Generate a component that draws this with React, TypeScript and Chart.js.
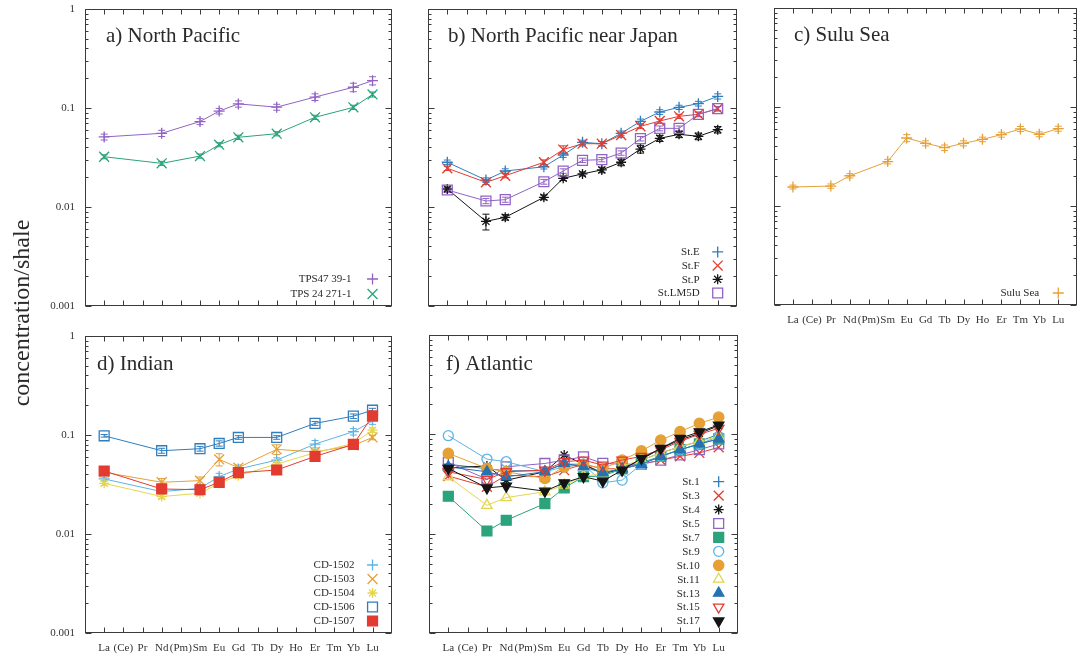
import React, { useEffect, useRef } from 'react';
import { Chart, registerables } from 'chart.js';
import { drawPoint } from 'chart.js/helpers';

Chart.register(...registerables);

const FONT = "'Liberation Serif', 'Times New Roman', 'DejaVu Serif', serif";

// x axis: atomic numbers La(57) .. Lu(71)
const atomicNumbers = [57, 58, 59, 60, 61, 62, 63, 64, 65, 66, 67, 68, 69, 70, 71];
const xTickLabels = ['La', '(Ce)', 'Pr', 'Nd', '(Pm)', 'Sm', 'Eu', 'Gd', 'Tb', 'Dy', 'Ho', 'Er', 'Tm', 'Yb', 'Lu'];
const yTickValues = [0.001, 0.01, 0.1, 1];
const yTickLabels = ['0.001', '0.01', '0.1', '1'];

// element positions used by the series
const fullREE = [57, 59, 60, 62, 63, 64, 65, 66, 67, 68, 69, 70, 71]; // La Pr Nd Sm Eu Gd Tb Dy Ho Er Tm Yb Lu
const partialREE = [57, 60, 62, 63, 64, 66, 68, 70, 71]; // La Nd Sm Eu Gd Dy Er Yb Lu

// a) North Pacific
const tps47 = [0.051, 0.0555, 0.073, 0.093, 0.110, 0.102, 0.129, 0.162, 0.189];
const tps47Err = [0.0035, 0.004, 0.005, 0.006, 0.008, 0.007, 0.01, 0.016, 0.018];
const tps24 = [0.0322, 0.0276, 0.0327, 0.0426, 0.0506, 0.055, 0.0805, 0.1016, 0.137];
const tps24Err = [0.0015, 0.0013, 0.0016, 0.002, 0.0025, 0.0027, 0.004, 0.005, 0.008];

// b) North Pacific near Japan
const stE = [0.0283, 0.0187, 0.0231, 0.0255, 0.0335, 0.045, 0.0436, 0.0555, 0.0733, 0.0911, 0.1016, 0.1107, 0.131];
const stEErr = [0.0015, 0.001, 0.0012, 0.0013, 0.0018, 0.0023, 0.0022, 0.003, 0.004, 0.005, 0.005, 0.006, 0.008];
const stF = [0.0246, 0.01775, 0.0207, 0.0283, 0.038, 0.0436, 0.0436, 0.0533, 0.0653, 0.0739, 0.0824, 0.0863, 0.0985];
const stFErr = [0.0012, 0.0009, 0.001, 0.0016, 0.0035, 0.0022, 0.0022, 0.0027, 0.0033, 0.0037, 0.004, 0.0045, 0.005];
const stP = [0.0152, 0.00716, 0.00787, 0.01253, 0.0195, 0.0216, 0.0237, 0.0283, 0.0385, 0.0494, 0.0542, 0.0518, 0.0604];
const stPErr = [0.0007, 0.0013, 0.0005, 0.0007, 0.001, 0.001, 0.0015, 0.0022, 0.0035, 0.0035, 0.004, 0.004, 0.0045];
const stLM5D = [0.01485, 0.0115, 0.01186, 0.018, 0.0231, 0.0296, 0.0301, 0.0351, 0.049, 0.0623, 0.0623, 0.0863, 0.0985];
const stLM5DErr = [0.0008, 0.0007, 0.0007, 0.001, 0.0012, 0.0015, 0.0015, 0.0018, 0.0025, 0.0035, 0.0035, 0.0045, 0.005];

// c) Sulu Sea
const sulu = [0.01556, 0.0159, 0.0202, 0.0281, 0.0486, 0.043, 0.0388, 0.043, 0.0471, 0.0526, 0.06, 0.053, 0.0604];
const suluErr = [0.0007, 0.0008, 0.001, 0.0015, 0.004, 0.0025, 0.0025, 0.0025, 0.0025, 0.003, 0.0035, 0.003, 0.0035];

// d) Indian
const cd1502 = [0.036, 0.0268, 0.029, 0.038, 0.0453, 0.0558, 0.081, 0.108, 0.138];
const cd1502Err = [0.0015, 0.001, 0.0012, 0.003, 0.002, 0.003, 0.007, 0.008, 0.01];
const cd1503 = [0.042, 0.0333, 0.0346, 0.0567, 0.0468, 0.0716, 0.0673, 0.0785, 0.0945];
const cd1503Err = [0.0015, 0.003, 0.003, 0.008, 0.003, 0.008, 0.004, 0.004, 0.005];
const cd1504 = [0.0325, 0.0239, 0.0258, 0.0325, 0.0388, 0.0509, 0.0662, 0.0822, 0.112];
const cd1504Err = [0.0015, 0.0012, 0.0012, 0.0015, 0.002, 0.0025, 0.003, 0.004, 0.006];
const cd1506 = [0.0982, 0.0694, 0.0727, 0.0822, 0.0945, 0.0945, 0.131, 0.155, 0.178];
const cd1506Err = [0.003, 0.004, 0.004, 0.005, 0.004, 0.004, 0.006, 0.008, 0.008];
const cd1507 = [0.0433, 0.0285, 0.028, 0.0333, 0.0416, 0.0443, 0.0608, 0.0803, 0.156];

// f) Atlantic
const st1 = [0.050, 0.045, 0.043, 0.043, 0.050, 0.050, 0.041, 0.046, 0.055, 0.065, 0.075, 0.085, 0.100];
const st3 = [0.038, 0.0296, 0.0388, 0.0374, 0.0436, 0.050, 0.045, 0.045, 0.050, 0.055, 0.060, 0.065, 0.074];
const st4 = [0.046, 0.048, 0.0345, 0.042, 0.0618, 0.050, 0.040, 0.045, 0.056, 0.072, 0.088, 0.102, 0.122];
const st5 = [0.0521, 0.0354, 0.0471, 0.0509, 0.055, 0.0594, 0.051, 0.050, 0.050, 0.055, 0.062, 0.070, 0.080];
const st7 = [0.0238, 0.01064, 0.01364, 0.0201, 0.0289, 0.0374, 0.038, 0.045, 0.052, 0.060, 0.070, 0.080, 0.090];
const st9 = [0.097, 0.0563, 0.053, 0.042, 0.047, 0.050, 0.0325, 0.0346, 0.050, 0.060, 0.070, 0.080, 0.095];
const st10 = [0.0643, 0.0454, 0.042, 0.036, 0.0471, 0.050, 0.045, 0.055, 0.068, 0.0875, 0.1065, 0.129, 0.149];
const st11 = [0.0374, 0.0193, 0.0231, 0.0264, 0.0308, 0.038, 0.040, 0.048, 0.055, 0.065, 0.075, 0.085, 0.095];
const st13 = [0.047, 0.042, 0.0374, 0.042, 0.051, 0.047, 0.041, 0.045, 0.050, 0.060, 0.070, 0.080, 0.090];
const st15 = [0.042, 0.0351, 0.042, 0.0436, 0.053, 0.055, 0.049, 0.055, 0.060, 0.070, 0.085, 0.100, 0.115];
const st17 = [0.0454, 0.0289, 0.0301, 0.0268, 0.0325, 0.0374, 0.0338, 0.0436, 0.0572, 0.0722, 0.091, 0.106, 0.124];

const C = {
  purple: '#9163c4',
  green: '#2ba37c',
  lightBlue: '#5cb4e6',
  orange: '#e6a035',
  yellow: '#e3d64e',
  blue: '#2f7dbd',
  red: '#e33b2f',
  black: '#141414',
};

type Marker = 'plus' | 'x' | 'star' | 'square' | 'squareF' | 'circle' | 'circleF' | 'tri' | 'triF' | 'triDown' | 'triDownF';
const MARKERS: Record<Marker, { style: string; r: number; filled: boolean; rot: number }> = {
  plus: { style: 'cross', r: 5.5, filled: false, rot: 0 },
  x: { style: 'crossRot', r: 7, filled: false, rot: 0 },
  star: { style: 'star', r: 5, filled: false, rot: 0 },
  square: { style: 'rect', r: 7, filled: false, rot: 0 },
  squareF: { style: 'rect', r: 7, filled: true, rot: 0 },
  circle: { style: 'circle', r: 5, filled: false, rot: 0 },
  circleF: { style: 'circle', r: 5.2, filled: true, rot: 0 },
  tri: { style: 'triangle', r: 6, filled: false, rot: 0 },
  triF: { style: 'triangle', r: 6, filled: true, rot: 0 },
  triDown: { style: 'triangle', r: 6, filled: false, rot: 180 },
  triDownF: { style: 'triangle', r: 6, filled: true, rot: 180 },
};

interface Series { label: string; xs: number[]; values: number[]; color: string; marker: Marker; errors?: number[] }
interface PanelCfg {
  left: number; top: number; w: number; h: number;
  area: { l: number; t: number; r: number; b: number };
  xMax: number;
  title: string; titleDx: number; titleDy: number;
  showX: boolean; showY: boolean;
  series: Series[];
  legendRow: number; legendBottom: number; legendGap: number;
}

const panels: PanelCfg[] = [
  {
    left: 0, top: 0, w: 400, h: 320, area: { l: 85, t: 9, r: 393, b: 306 }, xMax: 72,
    title: 'a) North Pacific', titleDx: 21, titleDy: 33, showX: false, showY: true,
    legendRow: 15, legendBottom: 12, legendGap: 21,
    series: [
      { label: 'TPS47 39-1', xs: partialREE, values: tps47, color: C.purple, marker: 'plus', errors: tps47Err },
      { label: 'TPS 24 271-1', xs: partialREE, values: tps24, color: C.green, marker: 'x', errors: tps24Err },
    ],
  },
  {
    left: 400, top: 0, w: 360, h: 320, area: { l: 28, t: 9, r: 337, b: 306 }, xMax: 72,
    title: 'b) North Pacific near Japan', titleDx: 20, titleDy: 33, showX: false, showY: false,
    legendRow: 13.7, legendBottom: 13, legendGap: 18,
    series: [
      { label: 'St.E', xs: fullREE, values: stE, color: C.blue, marker: 'plus', errors: stEErr },
      { label: 'St.F', xs: fullREE, values: stF, color: C.red, marker: 'x', errors: stFErr },
      { label: 'St.P', xs: fullREE, values: stP, color: C.black, marker: 'star', errors: stPErr },
      { label: 'St.LM5D', xs: fullREE, values: stLM5D, color: C.purple, marker: 'square', errors: stLM5DErr },
    ],
  },
  {
    left: 760, top: 0, w: 324, h: 340, area: { l: 14, t: 8, r: 323, b: 305 }, xMax: 72,
    title: 'c) Sulu Sea', titleDx: 20, titleDy: 33, showX: true, showY: false,
    legendRow: 14, legendBottom: 12, legendGap: 19,
    series: [
      { label: 'Sulu Sea', xs: fullREE, values: sulu, color: C.orange, marker: 'plus', errors: suluErr },
    ],
  },
  {
    left: 0, top: 320, w: 400, h: 337, area: { l: 85, t: 16, r: 393, b: 313 }, xMax: 72,
    title: 'd) Indian', titleDx: 12, titleDy: 34, showX: true, showY: true,
    legendRow: 14, legendBottom: 12, legendGap: 18,
    series: [
      { label: 'CD-1502', xs: partialREE, values: cd1502, color: C.lightBlue, marker: 'plus', errors: cd1502Err },
      { label: 'CD-1503', xs: partialREE, values: cd1503, color: C.orange, marker: 'x', errors: cd1503Err },
      { label: 'CD-1504', xs: partialREE, values: cd1504, color: C.yellow, marker: 'star', errors: cd1504Err },
      { label: 'CD-1506', xs: partialREE, values: cd1506, color: C.blue, marker: 'square', errors: cd1506Err },
      { label: 'CD-1507', xs: partialREE, values: cd1507, color: C.red, marker: 'squareF' },
    ],
  },
  {
    left: 400, top: 320, w: 360, h: 337, area: { l: 29, t: 15, r: 338, b: 313 }, xMax: 72,
    title: 'f) Atlantic', titleDx: 17, titleDy: 35, showX: true, showY: false,
    legendRow: 13.93, legendBottom: 12, legendGap: 19,
    series: [
      { label: 'St.1', xs: fullREE, values: st1, color: C.blue, marker: 'plus' },
      { label: 'St.3', xs: fullREE, values: st3, color: C.red, marker: 'x' },
      { label: 'St.4', xs: fullREE, values: st4, color: C.black, marker: 'star' },
      { label: 'St.5', xs: fullREE, values: st5, color: C.purple, marker: 'square' },
      { label: 'St.7', xs: fullREE, values: st7, color: C.green, marker: 'squareF' },
      { label: 'St.9', xs: fullREE, values: st9, color: C.lightBlue, marker: 'circle' },
      { label: 'St.10', xs: fullREE, values: st10, color: C.orange, marker: 'circleF' },
      { label: 'St.11', xs: fullREE, values: st11, color: C.yellow, marker: 'tri' },
      { label: 'St.13', xs: fullREE, values: st13, color: '#2472b3', marker: 'triF' },
      { label: 'St.15', xs: fullREE, values: st15, color: C.red, marker: 'triDown' },
      { label: 'St.17', xs: fullREE, values: st17, color: C.black, marker: 'triDownF' },
    ],
  },
];

function Panel({ cfg }: { cfg: PanelCfg }) {
  const ref = useRef<HTMLCanvasElement | null>(null);
  useEffect(() => {
    const canvas = ref.current;
    if (!canvas) return;
    const n = cfg.series.length;
    const datasets = cfg.series.map((s, i) => {
      const m = MARKERS[s.marker];
      return {
        label: s.label,
        data: s.xs.map((x, j) => ({ x, y: s.values[j] })),
        borderColor: s.color,
        backgroundColor: s.color,
        borderWidth: 1,
        pointStyle: m.style,
        pointRadius: m.r,
        pointRotation: m.rot,
        pointBorderWidth: 1.3,
        pointBorderColor: s.color,
        pointBackgroundColor: m.filled ? s.color : 'rgba(0,0,0,0)',
        pointHoverRadius: m.r,
        tension: 0,
        order: -i,
      };
    });

    const decor = {
      id: 'decor',
      beforeDatasetsDraw(chart: any) {
        const ctx = chart.ctx;
        const ys = chart.scales.y;
        ctx.save();
        cfg.series.forEach((s, i) => {
          if (!s.errors) return;
          const meta = chart.getDatasetMeta(i);
          ctx.strokeStyle = s.color;
          ctx.lineWidth = 1;
          meta.data.forEach((pt: any, j: number) => {
            const e = s.errors![j];
            const v = s.values[j];
            const y1 = ys.getPixelForValue(v + e);
            const y2 = ys.getPixelForValue(Math.max(v - e, 1e-6));
            ctx.beginPath();
            ctx.moveTo(pt.x, y1); ctx.lineTo(pt.x, y2);
            ctx.moveTo(pt.x - 3.5, y1); ctx.lineTo(pt.x + 3.5, y1);
            ctx.moveTo(pt.x - 3.5, y2); ctx.lineTo(pt.x + 3.5, y2);
            ctx.stroke();
          });
        });
        ctx.restore();
      },
      afterDraw(chart: any) {
        const ctx = chart.ctx;
        const a = chart.chartArea;
        const xs = chart.scales.x;
        const ys = chart.scales.y;
        ctx.save();
        // frame
        ctx.strokeStyle = '#3a3a3a';
        ctx.lineWidth = 1;
        const L = Math.round(a.left) + 0.5, R = Math.round(a.right) - 0.5;
        const T = Math.round(a.top) + 0.5, B = Math.round(a.bottom) - 0.5;
        ctx.strokeRect(L, T, R - L, B - T);
        // inner ticks
        ctx.beginPath();
        atomicNumbers.forEach((v) => {
          const x = Math.round(xs.getPixelForValue(v)) + 0.5;
          ctx.moveTo(x, B); ctx.lineTo(x, B - 5);
          ctx.moveTo(x, T); ctx.lineTo(x, T + 5);
        });
        yTickValues.forEach((d, k) => {
          const y = Math.round(ys.getPixelForValue(d)) + 0.5;
          ctx.moveTo(L, y); ctx.lineTo(L + 6, y);
          ctx.moveTo(R, y); ctx.lineTo(R - 6, y);
          if (k < yTickValues.length - 1) {
            for (let m = 2; m <= 9; m++) {
              const ym = Math.round(ys.getPixelForValue(m * d)) + 0.5;
              ctx.moveTo(L, ym); ctx.lineTo(L + 3, ym);
              ctx.moveTo(R, ym); ctx.lineTo(R - 3, ym);
            }
          }
        });
        ctx.stroke();
        // title
        ctx.fillStyle = '#2a2a2a';
        ctx.font = `21px ${FONT}`;
        ctx.textAlign = 'left';
        ctx.textBaseline = 'alphabetic';
        ctx.fillText(cfg.title, a.left + cfg.titleDx, a.top + cfg.titleDy);
        // legend
        const mx = xs.getPixelForValue(71);
        ctx.font = `11px ${FONT}`;
        ctx.textAlign = 'right';
        ctx.textBaseline = 'middle';
        cfg.series.forEach((s, i) => {
          const y = a.bottom - cfg.legendBottom - (n - 1 - i) * cfg.legendRow;
          ctx.fillStyle = '#2a2a2a';
          ctx.fillText(s.label, mx - cfg.legendGap, y + 0.5);
          const m = MARKERS[s.marker];
          ctx.strokeStyle = s.color;
          ctx.fillStyle = m.filled ? s.color : 'rgba(0,0,0,0)';
          ctx.lineWidth = 1.3;
          drawPoint(ctx, { pointStyle: m.style as any, rotation: m.rot, radius: m.r, borderWidth: 1.3 } as any, mx, y);
        });
        ctx.restore();
      },
    };

    const chart = new Chart(canvas, {
      type: 'line',
      data: { datasets: datasets as any },
      plugins: [decor as any],
      options: {
        responsive: false,
        animation: false,
        devicePixelRatio: 1,
        events: [],
        layout: { padding: { top: cfg.area.t, right: cfg.w - cfg.area.r, left: 0, bottom: 0 } },
        plugins: { legend: { display: false }, tooltip: { enabled: false }, title: { display: false } },
        scales: {
          x: {
            type: 'linear',
            position: 'bottom',
            min: 56,
            max: cfg.xMax,
            afterBuildTicks: (s: any) => { s.ticks = atomicNumbers.map((v) => ({ value: v })); },
            afterFit: (s: any) => {
              s.height = cfg.h - cfg.area.b;
              s.paddingLeft = 0; s.paddingRight = 0; s.paddingTop = 0; s.paddingBottom = 0;
            },
            grid: { display: false, drawTicks: false, tickLength: 0 },
            border: { display: false },
            ticks: {
              display: cfg.showX,
              autoSkip: false,
              maxRotation: 0,
              minRotation: 0,
              padding: 9,
              color: '#333',
              font: { family: FONT, size: 11 },
              callback: (v: any) => {
                const k = atomicNumbers.indexOf(Number(v));
                return k >= 0 ? xTickLabels[k] : '';
              },
            },
          },
          y: {
            type: 'logarithmic',
            position: 'left',
            min: 0.001,
            max: 1,
            afterBuildTicks: (s: any) => { s.ticks = yTickValues.map((v) => ({ value: v })); },
            afterFit: (s: any) => {
              s.width = cfg.area.l;
              s.paddingLeft = 0; s.paddingRight = 0; s.paddingTop = 0; s.paddingBottom = 0;
            },
            grid: { display: false, drawTicks: false, tickLength: 0 },
            border: { display: false },
            ticks: {
              display: cfg.showY,
              padding: 10,
              color: '#333',
              font: { family: FONT, size: 11 },
              callback: (_v: any, i: number) => yTickLabels[i],
            },
          },
        },
      } as any,
    });
    return () => chart.destroy();
  }, [cfg]);

  return (
    <canvas
      ref={ref}
      width={cfg.w}
      height={cfg.h}
      style={{ position: 'absolute', left: cfg.left, top: cfg.top, width: cfg.w, height: cfg.h }}
    />
  );
}

export default function App() {
  return (
    <div style={{ position: 'absolute', left: 0, top: 0, width: 1084, height: 657, background: '#fff', overflow: 'hidden' }}>
      {panels.map((p, i) => (
        <Panel key={i} cfg={p} />
      ))}
      <div
        style={{
          position: 'absolute',
          left: 21 - 150,
          top: 313 - 15,
          width: 300,
          height: 30,
          lineHeight: '30px',
          textAlign: 'center',
          transform: 'rotate(-90deg)',
          transformOrigin: '50% 50%',
          fontFamily: FONT,
          fontSize: 24,
          color: '#2a2a2a',
          whiteSpace: 'nowrap',
        }}
      >
        concentration/shale
      </div>
    </div>
  );
}
